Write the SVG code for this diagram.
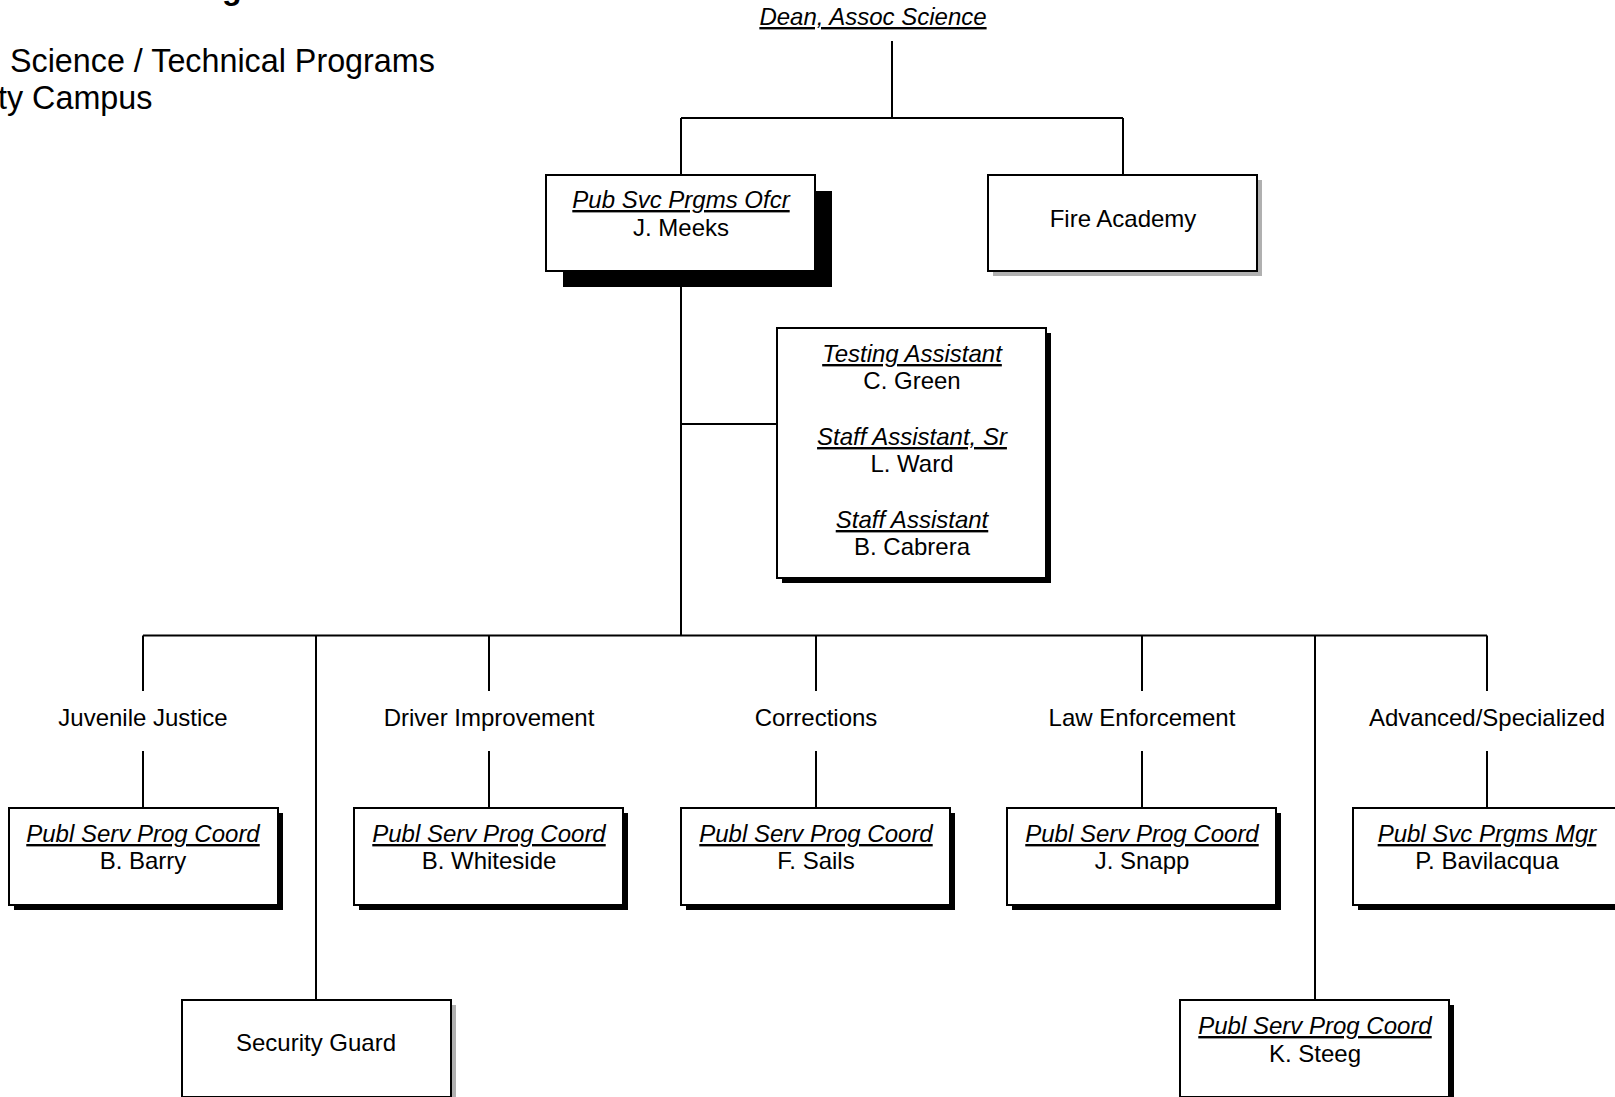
<svg xmlns="http://www.w3.org/2000/svg" width="1615" height="1097" viewBox="0 0 1615 1097">
<style>
text{font-family:"Liberation Sans",Arial,sans-serif;font-size:24px;fill:#000;text-anchor:middle}
.t{font-style:italic;text-decoration:underline}
.box{fill:#fff;stroke:#000;stroke-width:2}
.sb{fill:#000}
.sg{fill:#b0b0b0}
.ln{stroke:#000;stroke-width:2;fill:none}
.hd{text-anchor:start;font-size:32.3px}
</style>
<rect width="1615" height="1097" fill="#fff"/>
<g id="header">
<text class="hd" x="222" y="-1" style="font-weight:bold">g</text>
<text class="hd" x="10" y="72">Science / Technical Programs</text>
<text class="hd" x="-2" y="109">ty Campus</text>
</g>
<g id="connectors">
<path class="ln" d="M892 41V118M681 118H1123M681 118V175M1123 118V175"/>
<path class="ln" d="M681 271V635.5M681 424H777M143 635.5H1487"/>
<path class="ln" d="M143 635.5V691M143 751V808M489 635.5V691M489 751V808M816 635.5V691M816 751V808M1142 635.5V691M1142 751V808M1487 635.5V691M1487 751V808"/>
<path class="ln" d="M316 635.5V1000M1315 635.5V1000"/>
</g>
<g id="dean"><text class="t" x="873" y="25">Dean, Assoc Science</text></g>
<g id="meeks">
<rect class="sb" x="563" y="191" width="269" height="96"/>
<rect class="box" x="546" y="175" width="269" height="96"/>
<text class="t" x="681" y="208">Pub Svc Prgms Ofcr</text>
<text x="681" y="236">J. Meeks</text>
</g>
<g id="fire">
<rect class="sg" x="993" y="180" width="269" height="96"/>
<rect class="box" x="988" y="175" width="269" height="96"/>
<text x="1123" y="227">Fire Academy</text>
</g>
<g id="staff">
<rect class="sb" x="782" y="333" width="269" height="250"/>
<rect class="box" x="777" y="328" width="269" height="250"/>
<text class="t" x="912" y="362">Testing Assistant</text>
<text x="912" y="389">C. Green</text>
<text class="t" x="912" y="445">Staff Assistant, Sr</text>
<text x="912" y="472">L. Ward</text>
<text class="t" x="912" y="528">Staff Assistant</text>
<text x="912" y="555">B. Cabrera</text>
</g>
<g id="categories">
<text x="143" y="726">Juvenile Justice</text>
<text x="489" y="726">Driver Improvement</text>
<text x="816" y="726">Corrections</text>
<text x="1142" y="726">Law Enforcement</text>
<text x="1487" y="726">Advanced/Specialized</text>
</g>
<g id="barry">
<rect class="sb" x="14" y="813" width="269" height="97"/>
<rect class="box" x="9" y="808" width="269" height="97"/>
<text class="t" x="143" y="842">Publ Serv Prog Coord</text>
<text x="143" y="869">B. Barry</text>
</g>
<g id="whiteside">
<rect class="sb" x="359" y="813" width="269" height="97"/>
<rect class="box" x="354" y="808" width="269" height="97"/>
<text class="t" x="489" y="842">Publ Serv Prog Coord</text>
<text x="489" y="869">B. Whiteside</text>
</g>
<g id="sails">
<rect class="sb" x="686" y="813" width="269" height="97"/>
<rect class="box" x="681" y="808" width="269" height="97"/>
<text class="t" x="816" y="842">Publ Serv Prog Coord</text>
<text x="816" y="869">F. Sails</text>
</g>
<g id="snapp">
<rect class="sb" x="1012" y="813" width="269" height="97"/>
<rect class="box" x="1007" y="808" width="269" height="97"/>
<text class="t" x="1142" y="842">Publ Serv Prog Coord</text>
<text x="1142" y="869">J. Snapp</text>
</g>
<g id="bavilacqua">
<rect class="sb" x="1358" y="813" width="269" height="97"/>
<rect class="box" x="1353" y="808" width="269" height="97"/>
<text class="t" x="1487" y="842">Publ Svc Prgms Mgr</text>
<text x="1487" y="869">P. Bavilacqua</text>
</g>
<g id="security">
<rect class="sg" x="187" y="1005" width="269" height="97"/>
<rect class="box" x="182" y="1000" width="269" height="97"/>
<text x="316" y="1051">Security Guard</text>
</g>
<g id="steeg">
<rect class="sb" x="1185" y="1005" width="269" height="97"/>
<rect class="box" x="1180" y="1000" width="269" height="97"/>
<text class="t" x="1315" y="1034">Publ Serv Prog Coord</text>
<text x="1315" y="1062">K. Steeg</text>
</g>
</svg>
